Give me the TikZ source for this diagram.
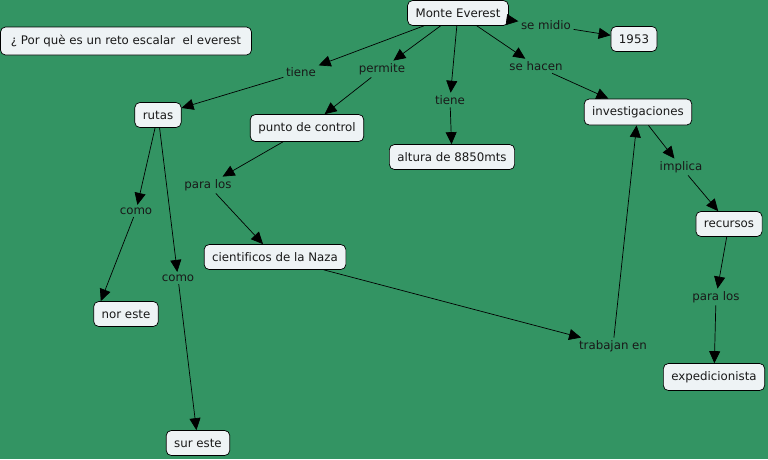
\documentclass[tikz,border=0pt]{standalone}
\usepackage{fontspec}
\setmainfont[Ligatures=NoCommon]{DejaVu Sans}
\usetikzlibrary{arrows.meta, positioning}
\definecolor{mapgreen}{RGB}{51,148,99}
\definecolor{boxfill}{RGB}{238,243,245}

\begin{document}
\begin{tikzpicture}[
    x=1pt, y=-1pt,
    >={Triangle[length=12pt, width=11pt]},
    font=\fontsize{11.8}{14}\selectfont,
    base/.style={align=center, text=black!90},
    concept/.style={base, draw=black, line width=0.7pt, rounded corners=5pt, fill=boxfill, minimum height=25pt, inner xsep=8pt, inner ysep=3pt},
    link/.style={base, inner sep=2.5pt},
    arrow/.style={->, line width=0.7pt, black}
  ]
    \fill[mapgreen] (0,0) rectangle (768,459);
    \useasboundingbox (0,0) rectangle (768,459);
    % concepts
    \node[concept, minimum height=28pt, minimum width=251pt] (pregunta) at (126,41) {¿ Por què es un reto escalar \ el everest};
    \node[concept] (everest) at (458,13) {Monte Everest};
    \node[concept] (anio) at (634,39) {1953};
    \node[concept] (rutas) at (158,115) {rutas};
    \node[concept, minimum height=27pt] (punto) at (307,128) {punto de control};
    \node[concept] (altura) at (452,157) {altura de 8850mts};
    \node[concept, minimum height=26pt] (invest) at (638,112) {investigaciones};
    \node[concept] (cientif) at (275,257) {cientificos de la Naza};
    \node[concept] (recursos) at (729,224) {recursos};
    \node[concept] (noreste) at (126,314) {nor este};
    \node[concept, minimum height=27pt] (expedic) at (714,377) {expedicionista};
    \node[concept] (sureste) at (198,443) {sur este};
    % linking phrases
    \node[link] (tiene1) at (301,72) {tiene};
    \node[link] (permite) at (382,69) {permite};
    \node[link] (tiene2) at (450,100) {tiene};
    \node[link] (midio) at (546,25) {se midio};
    \node[link] (hacen) at (536,66) {se hacen};
    \node[link] (paralos1) at (208,185) {para los};
    \node[link] (como1) at (136,211) {como};
    \node[link] (como2) at (178,278) {como};
    \node[link] (implica) at (681,167) {implica};
    \node[link] (paralos2) at (716,297) {para los};
    \node[link] (trabajan) at (613,346) {trabajan en};
    % connectors
    \draw[arrow] (everest) -- (tiene1);
    \draw[arrow] (tiene1) -- (rutas);
    \draw[arrow] (everest) -- (permite);
    \draw[arrow] (permite) -- (punto);
    \draw[arrow] (everest) -- (tiene2);
    \draw[arrow] (tiene2) -- (altura);
    \draw[arrow] (everest) -- (midio);
    \draw[arrow] (midio) -- (anio);
    \draw[arrow] (everest) -- (hacen);
    \draw[arrow] (hacen) -- (invest);
    \draw[arrow] (rutas) -- (como1);
    \draw[arrow] (como1) -- (noreste.153);
    \draw[arrow] (rutas) -- (como2);
    \draw[arrow] (como2) -- (sureste);
    \draw[arrow] (punto) -- (paralos1);
    \draw[arrow] (paralos1) -- (cientif);
    \draw[arrow] (cientif) -- (trabajan);
    \draw[arrow] (trabajan) -- (invest);
    \draw[arrow] (invest) -- (implica);
    \draw[arrow] (implica) -- (recursos);
    \draw[arrow] (recursos) -- (paralos2);
    \draw[arrow] (paralos2) -- (expedic);
  \end{tikzpicture}
\end{document}
